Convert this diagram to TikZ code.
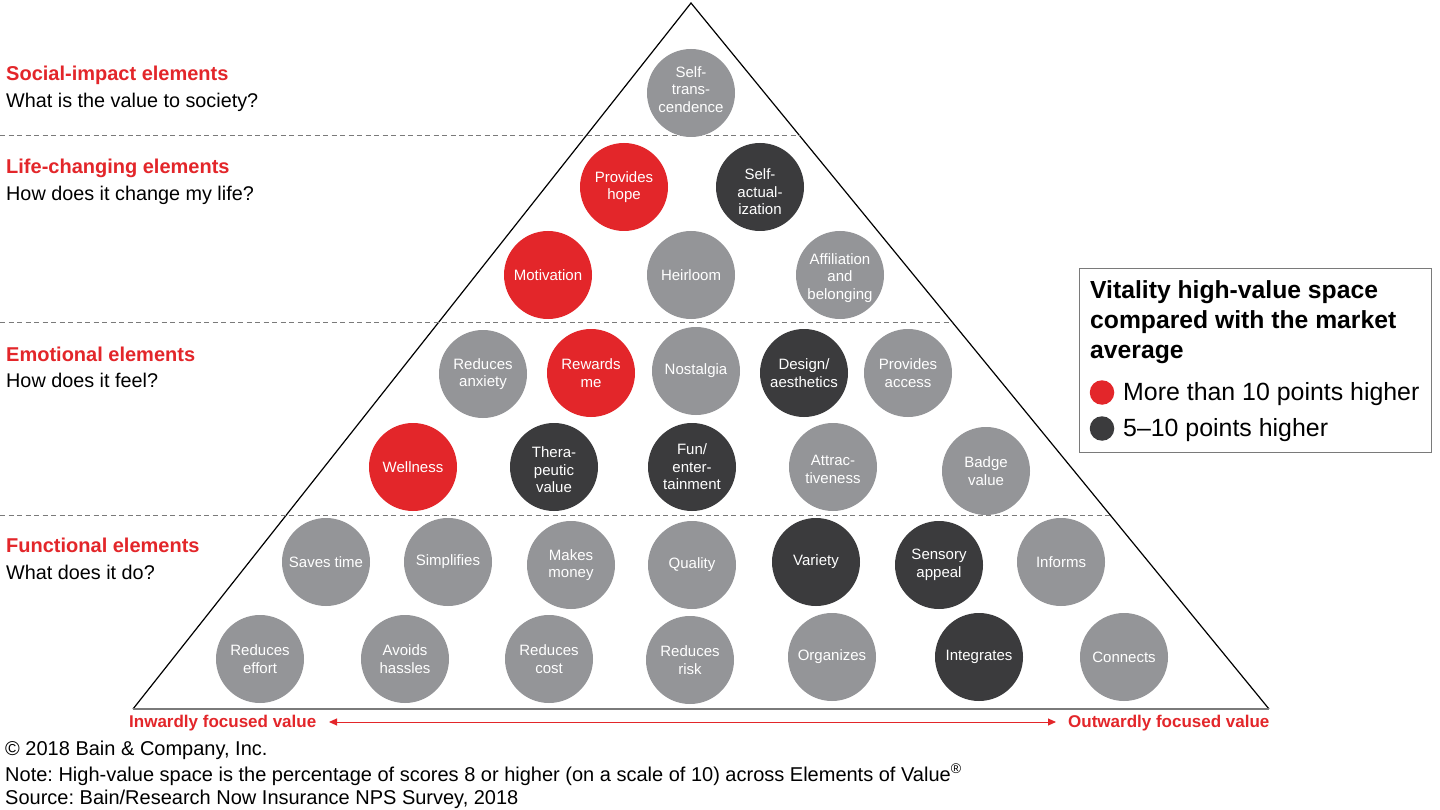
\documentclass[tikz,border=0pt]{standalone}
\usepackage{fontspec}
\setmainfont{Liberation Sans}
\usetikzlibrary{arrows.meta}
\definecolor{bred}{HTML}{E3262A}
\definecolor{bdark}{HTML}{3B3B3D}
\definecolor{bgray}{HTML}{949598}
\definecolor{sepgray}{HTML}{7A7A7A}
\frenchspacing
\begin{document}
\begin{tikzpicture}[x=1pt,y=-1pt,
  elem/.style={circle,minimum size=88pt,inner sep=0pt,text=white,align=center,font=\fontsize{15}{17.5}\selectfont},
  eg/.style={elem,fill=bgray},
  er/.style={elem,fill=bred},
  ed/.style={elem,fill=bdark},
  lab/.style={inner sep=0pt,text=white,align=center,font=\fontsize{15}{17.5}\selectfont},
  head/.style={anchor=base west,inner sep=0pt,text=bred,font=\fontsize{20}{23}\selectfont\bfseries},
  quest/.style={anchor=base west,inner sep=0pt,font=\fontsize{19.8}{23}\selectfont},
  sepline/.style={draw=sepgray,line width=1pt,dash pattern=on 5pt off 3.5pt},
  foot/.style={anchor=base west,inner sep=0pt,font=\fontsize{20}{23}\selectfont},
  axislab/.style={anchor=base west,inner sep=0pt,text=bred,font=\fontsize{17}{20}\selectfont\bfseries},
  legtitle/.style={anchor=base west,inner sep=0pt,font=\fontsize{24.7}{30}\selectfont\bfseries},
  legtext/.style={anchor=base west,inner sep=0pt,font=\fontsize{24.9}{28}\selectfont},
]
\useasboundingbox (0,0) rectangle (1440,810);
\fill[white] (0,0) rectangle (1440,810);

% pyramid
\coordinate (apex) at (691,3);
\coordinate (bl) at (133,709);
\coordinate (br) at (1269,709);
\draw[line width=1.2pt,black] (bl) -- (apex) -- (br);
\draw[line width=1.2pt,sepgray] (bl) -- (br);

% separators
\coordinate (s1a) at (0,136); \coordinate (s1b) at (800,136);
\coordinate (s2a) at (0,322); \coordinate (s2b) at (952,322);
\coordinate (s3a) at (0,515); \coordinate (s3b) at (1110,515);
\draw[sepline] (s1a) -- (s1b);
\draw[sepline] (s2a) -- (s2b);
\draw[sepline] (s3a) -- (s3b);

% left headings
\node[head] (h1) at (6,80.5) {Social-impact elements};
\node[quest] (q1) at (6,107.5) {What is the value to society?};
\node[head] (h2) at (6,174) {Life-changing elements};
\node[quest] (q2) at (6,200.5) {How does it change my life?};
\node[head] (h3) at (6,361) {Emotional elements};
\node[quest] (q3) at (6,387.5) {How does it feel?};
\node[head] (h4) at (6,552) {Functional elements};
\node[quest] (q4) at (6,579) {What does it do?};

% social impact
\node[eg,label={[lab,yshift=3.5pt]center:{Self-\\trans-\\cendence}}] (st) at (691,93) {};
% life changing
\node[er] (ph) at (624,187) {Provides\\hope};
\node[ed,label={[lab,yshift=-5pt]center:{Self-\\actual-\\ization}}] (sa) at (760,187) {};
\node[er] (mo) at (548,275) {Motivation};
\node[eg] (he) at (691,275) {Heirloom};
\node[eg,label={[lab,yshift=-3pt]center:{Affiliation\\and\\belonging}}] (ab) at (840,275) {};
% emotional
\node[eg] (ra) at (483,374) {Reduces\\anxiety};
\node[er] (rm) at (591,373) {Rewards\\me};
\node[eg] (no) at (696,371) {Nostalgia};
\node[ed] (da) at (804,373) {Design/\\aesthetics};
\node[eg] (pa) at (908,373) {Provides\\access};
\node[er] (we) at (413,467) {Wellness};
\node[ed,label={[lab,yshift=-3pt]center:{Thera-\\peutic\\value}}] (tv) at (554,467) {};
\node[ed] (fe) at (692,467) {Fun/\\enter-\\tainment};
\node[eg,label={[lab,yshift=-2.5pt]center:{Attrac-\\tiveness}}] (at) at (833,467) {};
\node[eg] (bv) at (986,471) {Badge\\value};
% functional
\node[eg] (stime) at (326,562) {Saves time};
\node[eg] (si) at (448,562) {Simplifies};
\node[eg] (mm) at (571,565) {Makes\\money};
\node[eg] (qu) at (692,565) {Quality};
\node[ed] (va) at (816,562) {Variety};
\node[ed] (sap) at (939,565) {Sensory\\appeal};
\node[eg] (in) at (1061,562) {Informs};
\node[eg] (re) at (260,659) {Reduces\\effort};
\node[eg] (ah) at (405,659) {Avoids\\hassles};
\node[eg] (rc) at (549,659) {Reduces\\cost};
\node[eg] (rr) at (690,660) {Reduces\\risk};
\node[eg] (og) at (832,657) {Organizes};
\node[ed] (ig) at (979,657) {Integrates};
\node[eg] (co) at (1124,657) {Connects};

% axis
\node[axislab] (inw) at (129,727) {Inwardly focused value};
\node[axislab] (outw) at (1068,727) {Outwardly focused value};
\coordinate (al) at (329,722);
\coordinate (ar) at (1056,722);
\draw[bred,line width=1pt,{Triangle[length=8pt,width=7pt]}-{Triangle[length=8pt,width=7pt]}] (al) -- (ar);

% legend
\node[draw=sepgray,line width=1.2pt,anchor=north west,minimum width=352pt,minimum height=184pt,inner sep=0pt] (legend) at (1079,268) {};
\node[legtitle] (lt1) at (1090,298.5) {Vitality high-value space};
\node[legtitle] (lt2) at (1090,328.5) {compared with the market};
\node[legtitle] (lt3) at (1090,358.5) {average};
\node[circle,fill=bred,minimum size=24.5pt,inner sep=0pt] (ldr) at (1102,392.5) {};
\node[circle,fill=bdark,minimum size=24.5pt,inner sep=0pt] (ldd) at (1102,428.5) {};
\node[legtext] (l1) at (1123,400) {More than 10 points higher};
\node[legtext] (l2) at (1123,436.5) {5–10 points higher};

% footer
\node[foot] (f1) at (5,755) {© 2018 Bain \& Company, Inc.};
\node[foot] (f2) at (5,781) {Note: High-value space is the percentage of scores 8 or higher (on a scale of 10) across Elements of Value\textsuperscript{®}};
\node[foot] (f3) at (5,804) {Source: Bain/Research Now Insurance NPS Survey, 2018};
\end{tikzpicture}
\end{document}
